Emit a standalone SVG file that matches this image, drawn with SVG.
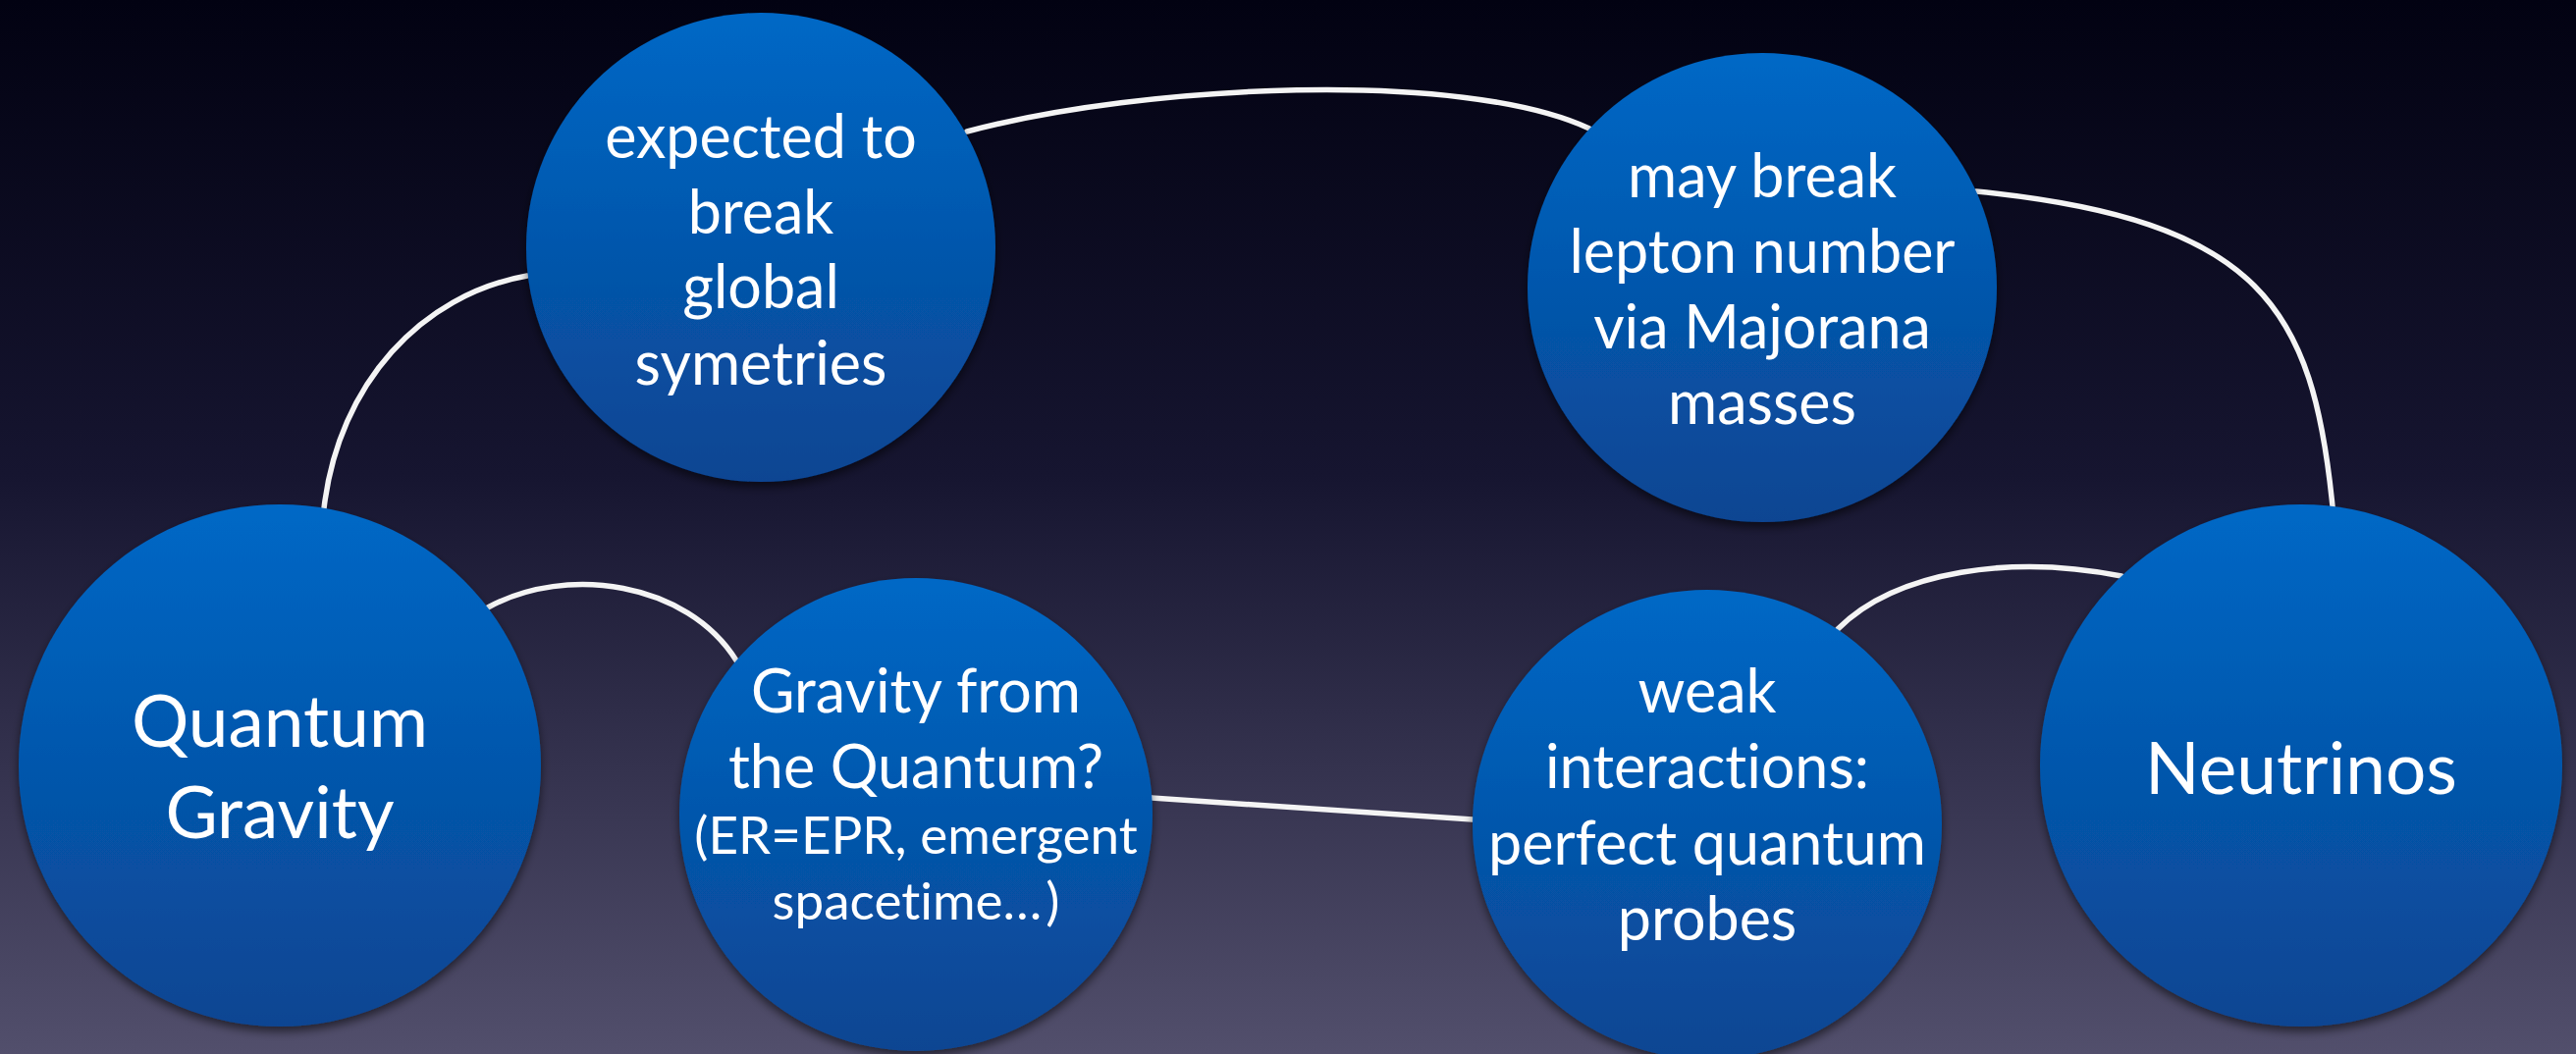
<svg xmlns="http://www.w3.org/2000/svg" width="2624" height="1074" viewBox="0 0 2624 1074">
  <defs>
    <linearGradient id="bg" x1="0" y1="0" x2="0" y2="1">
      <stop offset="0" stop-color="#020212"/>
      <stop offset="0.45" stop-color="#161530"/>
      <stop offset="1" stop-color="#524f6c"/>
    </linearGradient>
    <linearGradient id="ball" x1="0" y1="0" x2="0" y2="1">
      <stop offset="0" stop-color="#0068c6"/>
      <stop offset="1" stop-color="#0a4592"/>
    </linearGradient>
    <filter id="shadow" x="-20%" y="-20%" width="140%" height="140%">
      <feDropShadow dx="0" dy="5" stdDeviation="5" flood-color="#000000" flood-opacity="0.55"/>
    </filter>
  </defs>
  <style>
    .node circle { fill: url(#ball); filter: url(#shadow); }
    .node text { fill: #ffffff; font-family: Lato, "Open Sans", sans-serif; text-anchor: middle; font-variant-ligatures: none; font-feature-settings: "liga" 0, "dlig" 0; }
    .big { font-size: 73px; }
    .mid { font-size: 61px; }
    .small { font-size: 53px; }
    .conn path { fill: none; stroke: #f4f4f4; stroke-width: 5.5; stroke-linecap: round; }
  </style>
  <rect x="0" y="0" width="2624" height="1074" fill="url(#bg)"/>

  <g id="connectors" class="conn">
    <path d="M330,518 C345,390 430,300 537,281"/>
    <path d="M985,134 C1165,86 1489,70.5 1619,131"/>
    <path d="M2013,195 C2304,224 2356,315 2376,516"/>
    <path d="M1872,641 C1932,581 2051,565 2161,587"/>
    <path d="M497,619 C577,575 700,593 750,673"/>
    <path d="M1173,813 L1500,835"/>
  </g>

  <g id="node-quantum-gravity" class="node">
    <circle cx="285" cy="780" r="266"/>
    <text class="big" x="285" y="761">Quantum</text>
    <text class="big" x="285" y="854">Gravity</text>
  </g>

  <g id="node-global-symmetries" class="node">
    <circle cx="775" cy="252" r="239"/>
    <text class="mid" x="775" y="161">expected to</text>
    <text class="mid" x="775" y="238">break</text>
    <text class="mid" x="775" y="314">global</text>
    <text class="mid" x="775" y="392">symetries</text>
  </g>

  <g id="node-gravity-from-quantum" class="node">
    <circle cx="933" cy="830" r="241"/>
    <text class="mid" x="933" y="726">Gravity from</text>
    <text class="mid" x="933" y="803">the Quantum?</text>
    <text class="small" x="933" y="870">(ER=EPR, emergent</text>
    <text class="small" x="933" y="937">spacetime<tspan letter-spacing="4">…</tspan>)</text>
  </g>

  <g id="node-lepton-number" class="node">
    <circle cx="1795" cy="293" r="239"/>
    <text class="mid" x="1795" y="201">may break</text>
    <text class="mid" x="1795" y="278">lepton number</text>
    <text class="mid" x="1795" y="355">via Majorana</text>
    <text class="mid" x="1795" y="432">masses</text>
  </g>

  <g id="node-weak-interactions" class="node">
    <circle cx="1739" cy="840" r="239"/>
    <text class="mid" x="1739" y="726">weak</text>
    <text class="mid" x="1739" y="803">interactions:</text>
    <text class="mid" x="1739" y="881">perfect quantum</text>
    <text class="mid" x="1739" y="958">probes</text>
  </g>

  <g id="node-neutrinos" class="node">
    <circle cx="2344" cy="780" r="266"/>
    <text class="big" x="2344" y="809">Neutrinos</text>
  </g>
</svg>
